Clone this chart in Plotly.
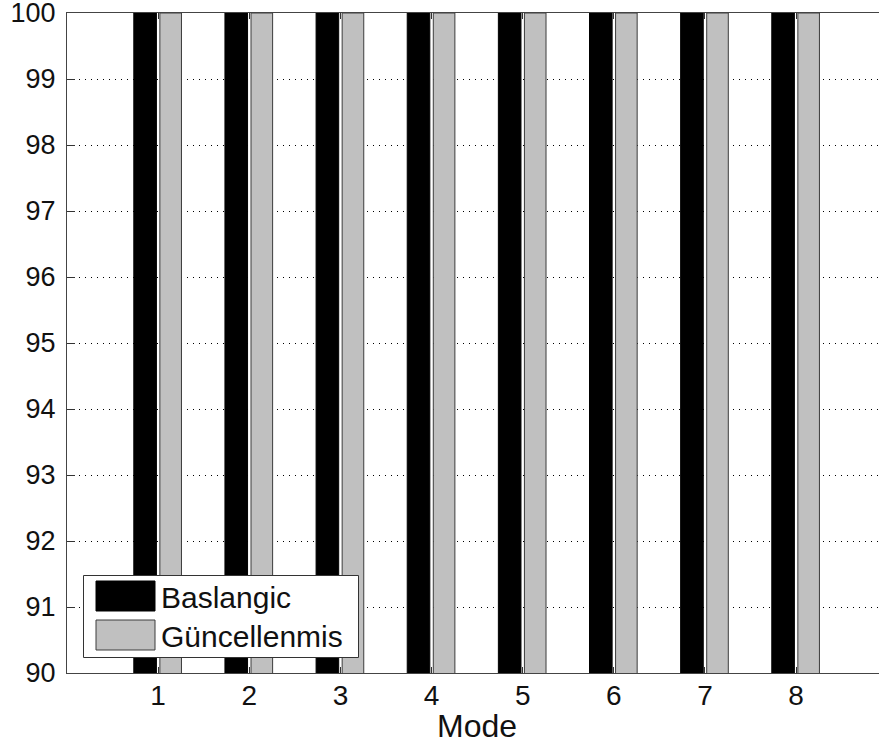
import plotly.graph_objects as go

modes = [1, 2, 3, 4, 5, 6, 7, 8]
baslangic = [100, 100, 100, 100, 100, 100, 100, 100]
guncellenmis = [100, 100, 100, 100, 100, 100, 100, 100]
series_names = ["Baslangic", "Güncellenmis"]
y_ticks = [90, 91, 92, 93, 94, 95, 96, 97, 98, 99, 100]
x_title = "Mode"

W, H = 879, 746
ML, MR, MT, MB = 67, 0, 13, 746 - 673
FONT = "Liberation Sans, Arial, sans-serif"
BLACK = "#000000"
GRAY = "#c0c0c0"

fig = go.Figure()
fig.add_trace(go.Bar(x=modes, y=baslangic, name=series_names[0],
                     marker=dict(color=BLACK, line=dict(color="#000000", width=1)),
                     offset=-0.267, width=0.248, showlegend=False))
fig.add_trace(go.Bar(x=modes, y=guncellenmis, name=series_names[1],
                     marker=dict(color=GRAY, line=dict(color="#3c3c3c", width=1)),
                     offset=0.019, width=0.237, showlegend=False))

pw, ph = W - ML - MR, H - MT - MB
def px(x):
    return (x - ML) / pw
def py(y):
    return 1 - (y - MT) / ph

shapes = [
    dict(type="rect", xref="paper", yref="paper", x0=px(83.5), x1=px(358.5),
         y0=py(657.5), y1=py(575.5), fillcolor="white",
         line=dict(color="#333333", width=1), layer="above"),
    dict(type="rect", xref="paper", yref="paper", x0=px(96), x1=px(155),
         y0=py(611), y1=py(581), fillcolor=BLACK,
         line=dict(color="#000000", width=1), layer="above"),
    dict(type="rect", xref="paper", yref="paper", x0=px(96), x1=px(155),
         y0=py(650), y1=py(620), fillcolor=GRAY,
         line=dict(color="#3c3c3c", width=1), layer="above"),
]
annotations = [
    dict(xref="paper", yref="paper", x=px(159), y=py(597), text=series_names[0],
         showarrow=False, xanchor="left", yanchor="middle",
         font=dict(family=FONT, size=30, color="#111111")),
    dict(xref="paper", yref="paper", x=px(159), y=py(636), text=series_names[1],
         showarrow=False, xanchor="left", yanchor="middle",
         font=dict(family=FONT, size=30, color="#111111")),
    dict(xref="x", yref="paper", x=4.5, y=py(726), text=x_title,
         showarrow=False, xanchor="center", yanchor="middle",
         font=dict(family=FONT, size=32, color="#111111")),
]

fig.update_layout(
    width=W, height=H,
    margin=dict(l=ML, r=MR, t=MT, b=MB, pad=0, autoexpand=False),
    paper_bgcolor="white", plot_bgcolor="white",
    barmode="overlay",
    font=dict(family=FONT, size=28, color="#111111"),
    shapes=shapes, annotations=annotations,
    xaxis=dict(range=[0, pw / 91.14], tickmode="array", tickvals=modes,
               ticktext=[str(m) for m in modes], automargin=False,
               ticks="inside", ticklen=6, tickcolor="#333333",
               showline=True, linecolor="#444444", linewidth=1, mirror="ticks",
               showgrid=False, zeroline=False, ticklabelstandoff=-3,
               ticklabeloverflow="allow", tickfont=dict(size=28)),
    yaxis=dict(range=[90, 100], tickmode="array", tickvals=y_ticks,
               automargin=False,
               ticks="inside", ticklen=8, tickcolor="#333333",
               showline=True, linecolor="#444444", linewidth=1,
               showgrid=True, gridcolor="#000000", gridwidth=1, griddash="1px,5px",
               zeroline=False, ticklabelstandoff=5, ticklabeloverflow="allow",
               tickfont=dict(size=27)),
)

fig.write_html("out.html",
               config={"displayModeBar": False},
               post_script="document.body.style.margin='0';document.body.style.overflow='hidden';")
